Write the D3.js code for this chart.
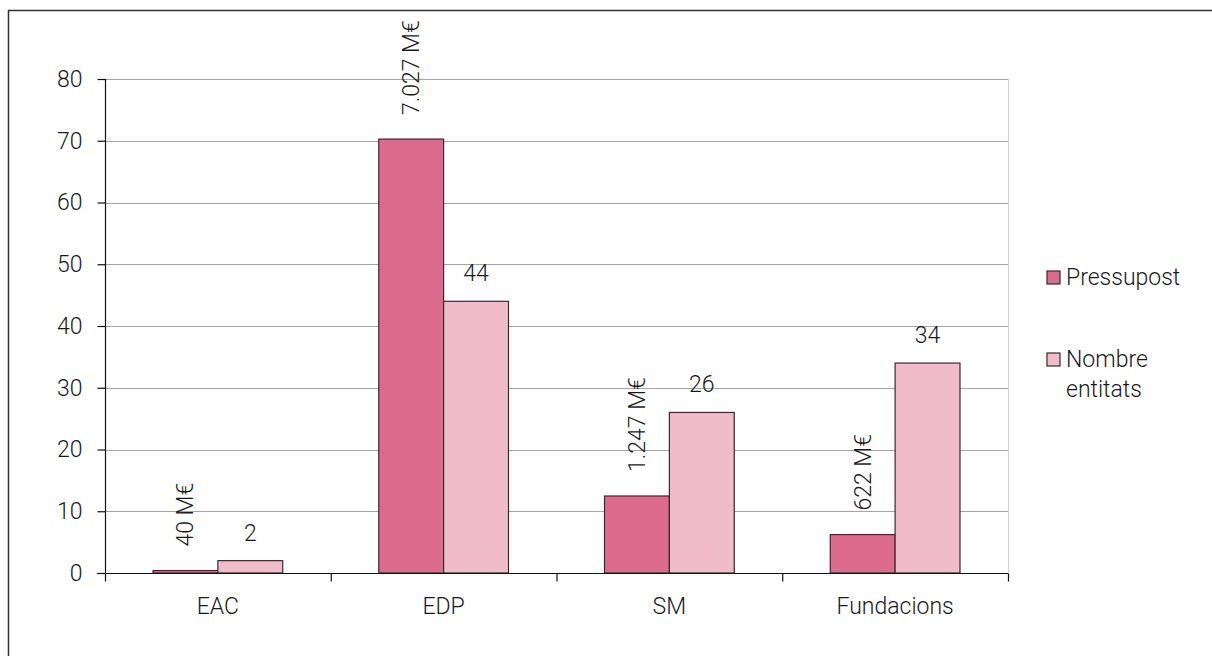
<!DOCTYPE html>
<html>
<head>
<meta charset="utf-8">
<script src="https://cdn.jsdelivr.net/npm/d3@7"></script>
<style>
    body { margin: 0; background: #fff; }
    svg text { font-family: Roboto, 'Liberation Sans', sans-serif; font-weight: 300; fill: #1a1a1a; }
</style>
</head>
<body>
<div id="chart"></div>
<script>
// categories and series
const categories = ['EAC', 'EDP', 'SM', 'Fundacions'];
const seriesNames = ['Pressupost', 'Nombre entitats'];
const pressupost = [0.4, 70.27, 12.47, 6.22];
const pressupostLabels = ['40 M€', '7.027 M€', '1.247 M€', '622 M€'];
const entitats = [2, 44, 26, 34];
const entitatsLabels = ['2', '44', '26', '34'];
const yTicks = [0, 10, 20, 30, 40, 50, 60, 70, 80];

const colors = ['#dc6b8f', '#f0bccb'];
const fontSize = 23;

const dims = {
    width: 1212,
    height: 656,
    left: 105,
    right: 1008,
    top: 79,
    bottom: 573,
};

const svg = d3
    .select('#chart')
    .append('svg')
    .attr('width', dims.width)
    .attr('height', dims.height)
    .attr('viewBox', `0 0 ${dims.width} ${dims.height}`);

/* outer frame (runs off the page on the right and bottom) */
svg.append('rect')
    .attr('x', 8.5)
    .attr('y', 10.5)
    .attr('width', 1300)
    .attr('height', 700)
    .attr('fill', 'none')
    .attr('stroke', '#333')
    .attr('stroke-width', 1.5);

const yScale = d3.scaleLinear().domain([0, 80]).range([dims.bottom, dims.top]);

const xScale = d3
    .scaleBand()
    .domain(categories)
    .range([dims.left, dims.right])
    .padding(0);

const xInner = d3
    .scaleBand()
    .domain(seriesNames)
    .range([0, xScale.bandwidth()])
    .paddingInner(0)
    .paddingOuter(0.74);

/* gridlines */
svg.append('g')
    .selectAll('line')
    .data(yTicks.filter(d => d > 0))
    .join('line')
    .attr('x1', dims.left)
    .attr('x2', dims.right)
    .attr('y1', d => Math.round(yScale(d)) + 0.5)
    .attr('y2', d => Math.round(yScale(d)) + 0.5)
    .attr('stroke', '#a6a6a6')
    .attr('stroke-width', 1.2);

/* right edge of plot area */
svg.append('line')
    .attr('x1', dims.right + 0.5)
    .attr('x2', dims.right + 0.5)
    .attr('y1', dims.top)
    .attr('y2', dims.bottom)
    .attr('stroke', '#d0d0d0');

/* bars */
const groups = svg
    .append('g')
    .selectAll('g')
    .data(categories)
    .join('g')
    .attr('transform', d => `translate(${xScale(d)},0)`);

groups
    .append('rect')
    .attr('x', xInner('Pressupost'))
    .attr('width', xInner.bandwidth())
    .attr('y', (d, i) => yScale(pressupost[i]))
    .attr('height', (d, i) => dims.bottom - yScale(pressupost[i]))
    .attr('fill', colors[0])
    .attr('stroke', '#3a2a30')
    .attr('stroke-width', 1.2);

groups
    .append('rect')
    .attr('x', xInner('Nombre entitats'))
    .attr('width', xInner.bandwidth())
    .attr('y', (d, i) => yScale(entitats[i]))
    .attr('height', (d, i) => dims.bottom - yScale(entitats[i]))
    .attr('fill', colors[1])
    .attr('stroke', '#3a2a30')
    .attr('stroke-width', 1.2);

/* value labels */
groups
    .append('text')
    .attr('transform', (d, i) => {
        const x = xInner('Pressupost') + xInner.bandwidth() / 2 + 8;
        const y = yScale(pressupost[i]) - 24;
        return `translate(${x},${y}) rotate(-90)`;
    })
    .attr('text-anchor', 'start')
    .attr('font-size', fontSize)
    .text((d, i) => pressupostLabels[i]);

groups
    .append('text')
    .attr('x', xInner('Nombre entitats') + xInner.bandwidth() / 2)
    .attr('y', (d, i) => yScale(entitats[i]) - 20)
    .attr('text-anchor', 'middle')
    .attr('font-size', fontSize)
    .text((d, i) => entitatsLabels[i]);

/* axes */
const yAxis = d3.axisLeft(yScale).tickValues(yTicks).tickSize(8).tickPadding(15);
const gY = svg.append('g').attr('transform', `translate(${dims.left + 0.5},0)`).call(yAxis);
gY.selectAll('text').attr('font-size', fontSize).attr('fill', '#1a1a1a');
gY.selectAll('line, path').attr('stroke', '#111').attr('stroke-width', 1.2);
gY.select('.domain').attr('d', `M0,${dims.top}V${dims.bottom}`);

const gX = svg.append('g').attr('transform', `translate(0,${dims.bottom + 0.5})`);
gX.append('line')
    .attr('x1', dims.left - 8)
    .attr('x2', dims.right)
    .attr('stroke', '#111')
    .attr('stroke-width', 1.2);
gX.selectAll('.tick-mark')
    .data(categories.concat(['end']))
    .join('line')
    .attr('class', 'tick-mark')
    .attr('x1', (d, i) => (i < categories.length ? xScale(d) : dims.right) + 0.5)
    .attr('x2', (d, i) => (i < categories.length ? xScale(d) : dims.right) + 0.5)
    .attr('y1', 0)
    .attr('y2', 8)
    .attr('stroke', '#111')
    .attr('stroke-width', 1.2);
gX.selectAll('.cat')
    .data(categories)
    .join('text')
    .attr('class', 'cat')
    .attr('x', d => xScale(d) + xScale.bandwidth() / 2)
    .attr('y', 40)
    .attr('text-anchor', 'middle')
    .attr('font-size', fontSize)
    .text(d => d);

/* legend */
const legend = svg.append('g').attr('transform', 'translate(1047,271)');
const legendRows = [['Pressupost'], ['Nombre', 'entitats']];
const items = legend
    .selectAll('g')
    .data(seriesNames)
    .join('g')
    .attr('transform', (d, i) => `translate(0,${i * 82})`);
items
    .append('rect')
    .attr('width', 13)
    .attr('height', 13)
    .attr('fill', (d, i) => colors[i])
    .attr('stroke', '#3a2a30')
    .attr('stroke-width', 1.2);
items
    .append('text')
    .attr('x', 19)
    .attr('y', 14)
    .attr('font-size', fontSize)
    .selectAll('tspan')
    .data((d, i) => legendRows[i])
    .join('tspan')
    .attr('x', 19)
    .attr('dy', (d, i) => (i === 0 ? 0 : 30))
    .text(d => d);
</script>
</body>
</html>
